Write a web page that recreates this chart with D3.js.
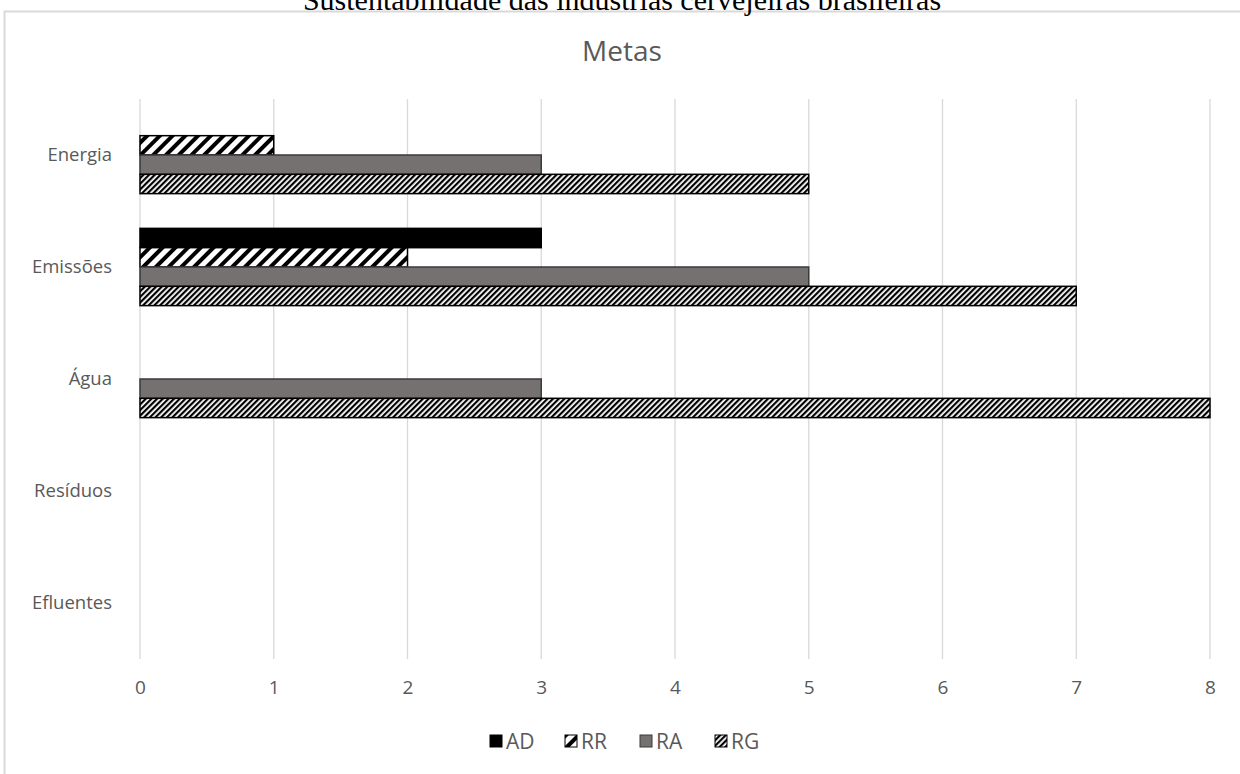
<!DOCTYPE html>
<html><head><meta charset="utf-8">
<script src="https://cdn.jsdelivr.net/npm/d3@7"></script>
<style>body{margin:0;background:#fff}svg{display:block}</style>
</head><body>
<script>
const categories = ["Energia", "Emissões", "Água", "Resíduos", "Efluentes"];
const seriesNames = ["AD", "RR", "RA", "RG"];
const AD = [0, 3, 0, 0, 0];
const RR = [1, 2, 0, 0, 0];
const RA = [3, 5, 3, 0, 0];
const RG = [5, 7, 8, 0, 0];
const xTicks = [0, 1, 2, 3, 4, 5, 6, 7, 8];
const seriesValues = {AD, RR, RA, RG};

const W = 1240, H = 774;
const svg = d3.select("body").append("svg").attr("width", W).attr("height", H);
const defs = svg.append("defs");
const p1 = defs.append("pattern").attr("id", "pRR").attr("patternUnits", "userSpaceOnUse")
  .attr("width", 9).attr("height", 9).attr("patternTransform", "rotate(45)");
p1.append("rect").attr("width", 9).attr("height", 9).attr("fill", "#fff");
p1.append("rect").attr("width", 4).attr("height", 9).attr("fill", "#000");
const p2 = defs.append("pattern").attr("id", "pRG").attr("patternUnits", "userSpaceOnUse")
  .attr("width", 4).attr("height", 4).attr("patternTransform", "rotate(45)");
p2.append("rect").attr("width", 4).attr("height", 4).attr("fill", "#fff");
p2.append("rect").attr("width", 2.2).attr("height", 4).attr("fill", "#000");

const fills = {AD: "#000", RR: "url(#pRR)", RA: "#767171", RG: "url(#pRG)"};
const strokes = {AD: "#000", RR: "#000", RA: "#3a3a3a", RG: "#000"};

svg.append("path").attr("d", `M4.5,${H} V11.5 H${W}`).attr("fill", "none")
  .attr("stroke", "#d9d9d9").attr("stroke-width", 2);

svg.append("text").attr("x", 622).attr("y", 10).attr("text-anchor", "middle")
  .attr("font-family", "Liberation Serif, Times New Roman, serif").attr("font-size", 30)
  .attr("fill", "#000").text("Sustentabilidade das indústrias cervejeiras brasileiras");

svg.append("text").attr("x", 622).attr("y", 61).attr("text-anchor", "middle")
  .attr("font-family", "Open Sans, sans-serif").attr("font-size", 28)
  .attr("fill", "#595959").text("Metas");

const x = d3.scaleLinear().domain([0, 8]).range([140, 1210]);
const y = d3.scaleBand().domain(categories).range([99, 659]).paddingInner(0.31).paddingOuter(0.155);
const yi = d3.scaleBand().domain(seriesNames).range([0, y.bandwidth()]);

svg.append("g").selectAll("line").data(xTicks).join("line")
  .attr("x1", d => x(d)).attr("x2", d => x(d)).attr("y1", 99).attr("y2", 659)
  .attr("stroke", "#d9d9d9").attr("stroke-width", 1.3);

const xAxis = svg.append("g").attr("transform", "translate(0,659)")
  .call(d3.axisBottom(x).tickValues(xTicks).tickSize(0).tickPadding(22).tickFormat(d3.format("d")));
xAxis.select(".domain").remove();
xAxis.selectAll("text").attr("font-family", "Open Sans, sans-serif").attr("font-size", 19).attr("fill", "#595959");

const yAxis = svg.append("g").attr("transform", "translate(112,0)")
  .call(d3.axisLeft(y).tickSize(0).tickPadding(0));
yAxis.select(".domain").remove();
yAxis.selectAll("text").attr("font-family", "Open Sans, sans-serif").attr("font-size", 18.5).attr("fill", "#595959");

const rows = [];
categories.forEach((c, i) => seriesNames.forEach(s => rows.push({c, s, v: seriesValues[s][i]})));
svg.append("g").selectAll("rect").data(rows.filter(r => r.v > 0)).join("rect")
  .attr("x", x(0)).attr("y", d => y(d.c) + yi(d.s))
  .attr("width", d => x(d.v) - x(0)).attr("height", yi.bandwidth())
  .attr("fill", d => fills[d.s]).attr("stroke", d => strokes[d.s]).attr("stroke-width", 1.5);

const legX = [490, 565, 640, 715];
const leg = svg.append("g");
seriesNames.forEach((s, i) => {
  leg.append("rect").attr("x", legX[i]).attr("y", 735).attr("width", 12).attr("height", 12)
    .attr("fill", fills[s]).attr("stroke", strokes[s]).attr("stroke-width", 1);
  leg.append("text").attr("x", legX[i] + 16).attr("y", 749)
    .attr("font-family", "Open Sans, sans-serif").attr("font-size", 21).attr("fill", "#595959").text(s);
});
</script>
</body></html>
